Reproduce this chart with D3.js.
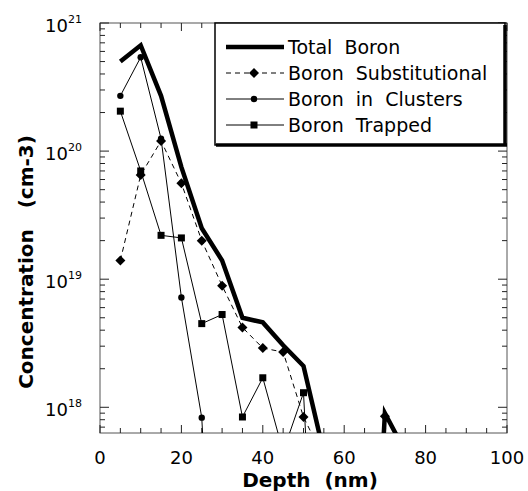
<!DOCTYPE html>
<html>
<head>
<meta charset="utf-8">
<script src="https://cdn.jsdelivr.net/npm/d3@7"></script>
<style>
body { margin: 0; background: #fff; }
text { font-family: "DejaVu Sans", sans-serif; fill: #000; white-space: pre; }
</style>
</head>
<body>
<svg id="chart" width="528" height="491"></svg>
<script>
// depth in nm, concentrations in cm-3 (1e15 = below the plotted range)
var depth = [5, 10, 15, 20, 25, 30, 35, 40, 45, 50, 55, 60, 65, 70, 75];
var totalBoron = [5.0e20, 6.7e20, 2.7e20, 7.5e19, 2.5e19, 1.4e19, 5.0e18, 4.6e18, 3.05e18, 2.1e18, 4.4e17, 1e15, 1e15, 9.0e17, 4.5e17];
var boronSubstitutional = [1.4e19, 6.5e19, 1.2e20, 5.6e19, 2.0e19, 8.9e18, 4.2e18, 2.9e18, 2.7e18, 8.4e17, 4.0e17, 1e15, 1e15, 8.5e17, 1e15];
var boronClusters = [2.7e20, 5.4e20, 1.25e20, 7.2e18, 8.3e17, 1e15, 1e15, 1e15, 1e15, 1e15, 1e15, 1e15, 1e15, 1e15, 1e15];
var boronTrapped = [2.05e20, 7.0e19, 2.2e19, 2.1e19, 4.5e18, 5.3e18, 8.4e17, 1.7e18, 4.5e17, 1.3e18, 1e15, 1e15, 1e15, 1e15, 1e15];

var xTickValues = [0, 20, 40, 60, 80, 100];
var yDecades = [18, 19, 20, 21];
var legendLabels = ["Total  Boron", "Boron  Substitutional", "Boron  in  Clusters", "Boron  Trapped"];

var svg = d3.select("#chart");
var pLeft = 100, pTop = 23, pRight = 507, pBottom = 433;

var x = d3.scaleLinear().domain([0, 100]).range([pLeft, pRight]);
var y = d3.scaleLog().domain([6.3e17, 1e21]).range([pBottom, pTop]);

svg.append("defs").append("clipPath").attr("id", "plotClip")
    .append("rect").attr("x", pLeft).attr("y", pTop).attr("width", pRight - pLeft).attr("height", pBottom - pTop);

// frame
svg.append("rect").attr("x", pLeft).attr("y", pTop).attr("width", pRight - pLeft).attr("height", pBottom - pTop)
    .attr("fill", "none").attr("stroke", "#555").attr("stroke-width", 1);

// x ticks (bottom and top, pointing inward)
var xMinor = d3.range(0, 101, 5);
var tickG = svg.append("g").attr("stroke", "#222").attr("stroke-width", 1);
xMinor.forEach(function(v) {
    var len = (v % 20 == 0) ? 8 : 5;
    tickG.append("line").attr("x1", x(v)).attr("x2", x(v)).attr("y1", pBottom).attr("y2", pBottom - len);
    tickG.append("line").attr("x1", x(v)).attr("x2", x(v)).attr("y1", pTop).attr("y2", pTop + len);
});

// y ticks (left and right)
var yTicks = [];
for (var e = 17; e <= 20; e++) {
    for (var m = 1; m <= 9; m++) {
        var val = m * Math.pow(10, e);
        if (val >= 6.3e17 && val <= 1e21) yTicks.push({v: val, major: m == 1});
    }
}
yTicks.push({v: 1e21, major: true});
yTicks.forEach(function(t) {
    var len = t.major ? 9 : 5;
    tickG.append("line").attr("x1", pLeft).attr("x2", pLeft + len).attr("y1", y(t.v)).attr("y2", y(t.v));
    tickG.append("line").attr("x1", pRight).attr("x2", pRight - len).attr("y1", y(t.v)).attr("y2", y(t.v));
});

// tick labels
svg.selectAll("text.xlabel").data(xTickValues).enter().append("text")
    .attr("class", "xlabel")
    .attr("x", function(d) { return x(d); })
    .attr("y", 464)
    .attr("text-anchor", "middle")
    .attr("font-size", 18)
    .text(function(d) { return d; });

var yLab = svg.selectAll("text.ylabel").data(yDecades).enter().append("text")
    .attr("class", "ylabel")
    .attr("x", 82)
    .attr("y", function(d) { return y(Math.pow(10, d)) + 9; })
    .attr("text-anchor", "end")
    .attr("font-size", 18);
yLab.append("tspan").text("10");
yLab.append("tspan").attr("font-size", 11).attr("dy", -9).text(function(d) { return d; });

// axis titles
svg.append("text").attr("x", 310).attr("y", 487).attr("text-anchor", "middle")
    .attr("font-size", 20).attr("font-weight", "bold").text("Depth  (nm)");
svg.append("text").attr("transform", "translate(33,262) rotate(-90)").attr("text-anchor", "middle")
    .attr("font-size", 20).attr("font-weight", "bold").text("Concentration   (cm-3)");

// series
var series = [
    {values: totalBoron, width: 4.5, dash: null, symbol: null},
    {values: boronSubstitutional, width: 1, dash: "5,4", symbol: "diamond"},
    {values: boronClusters, width: 1, dash: null, symbol: "circle"},
    {values: boronTrapped, width: 1, dash: null, symbol: "square"}
];

var line = d3.line()
    .x(function(d) { return x(d[0]); })
    .y(function(d) { return y(d[1]); });

var plot = svg.append("g").attr("clip-path", "url(#plotClip)");

var drawMarker = function(g, type, cx, cy) {
    if (type == "circle") {
        g.append("circle").attr("cx", cx).attr("cy", cy).attr("r", 3.2).attr("fill", "#000");
    } else if (type == "square") {
        g.append("rect").attr("x", cx - 3.5).attr("y", cy - 3.5).attr("width", 7).attr("height", 7).attr("fill", "#000");
    } else if (type == "diamond") {
        g.append("path").attr("d", d3.symbol(d3.symbolSquare, 50)())
            .attr("transform", "translate(" + cx + "," + cy + ") rotate(45)").attr("fill", "#000");
    }
};

series.slice().reverse().forEach(function(s) {
    var pts = depth.map(function(d, i) { return [d, s.values[i]]; });
    plot.append("path").datum(pts)
        .attr("d", line)
        .attr("fill", "none")
        .attr("stroke", "#000")
        .attr("stroke-width", s.width)
        .attr("stroke-linejoin", "miter")
        .attr("stroke-dasharray", s.dash);
    if (s.symbol) {
        pts.forEach(function(p) {
            drawMarker(plot, s.symbol, x(p[0]), y(p[1]));
        });
    }
});

// legend
var lg = svg.append("g");
lg.append("rect").attr("x", 215).attr("y", 23).attr("width", 290).attr("height", 122)
    .attr("fill", "#fff").attr("stroke", "#000").attr("stroke-width", 1.5);
lg.append("line").attr("x1", 216).attr("x2", 507).attr("y1", 145).attr("y2", 145).attr("stroke", "#000").attr("stroke-width", 3.5);
lg.append("line").attr("x1", 505).attr("x2", 505).attr("y1", 25).attr("y2", 146).attr("stroke", "#000").attr("stroke-width", 3.5);

legendLabels.forEach(function(label, i) {
    var ly = 47 + i * 26;
    var s = series[i];
    lg.append("line").attr("x1", 226).attr("x2", 284).attr("y1", ly).attr("y2", ly)
        .attr("stroke", "#000").attr("stroke-width", s.width).attr("stroke-dasharray", s.dash);
    if (s.symbol) drawMarker(lg, s.symbol, 254, ly);
    lg.append("text").attr("x", 288).attr("y", ly + 7).attr("font-size", 19).text(label);
});
</script>
</body>
</html>
